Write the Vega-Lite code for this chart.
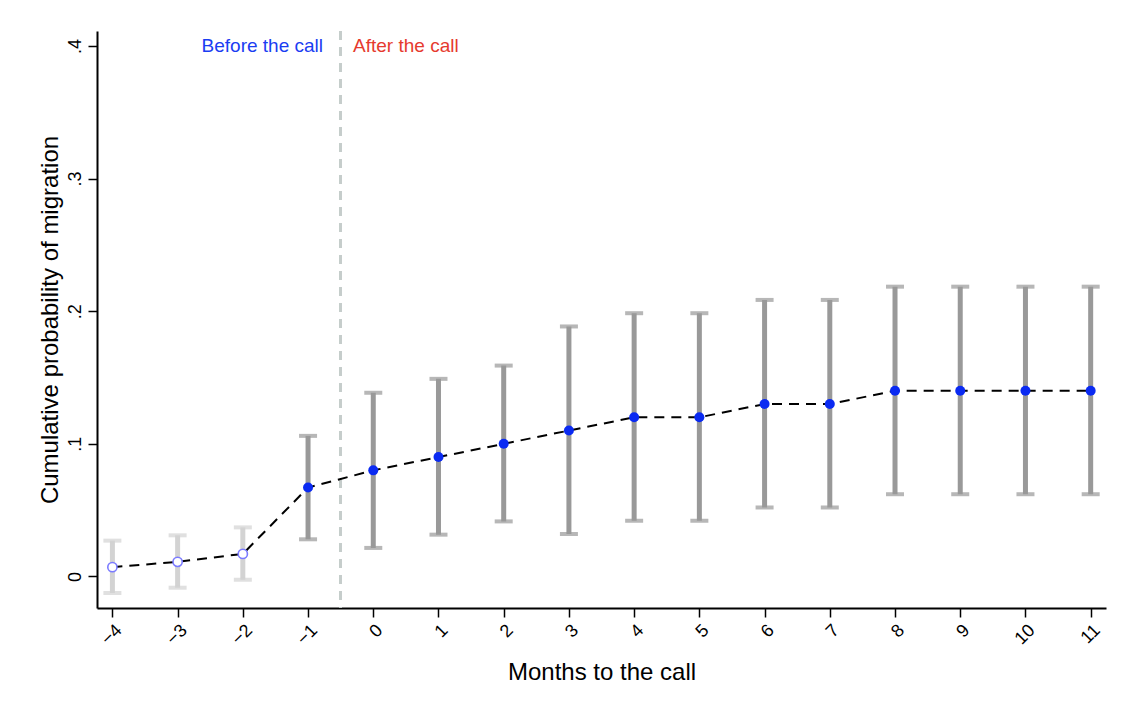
{
  "$schema": "https://vega.github.io/schema/vega-lite/v6.json",
  "width": 1009,
  "height": 577,
  "autosize": {"type": "none"},
  "padding": {"left": 97, "top": 31, "right": 18, "bottom": 94},
  "background": "white",
  "config": {
    "view": {"stroke": null},
    "font": "Liberation Sans",
    "axis": {"grid": false, "domainColor": "black", "tickColor": "black", "labelColor": "black", "titleColor": "black", "titleFontWeight": "normal"}
  },
  "datasets": {
    "est": [
      {"month": -4, "p": 0.007, "lo": -0.0125, "hi": 0.027, "period": "before"},
      {"month": -3, "p": 0.011, "lo": -0.0085, "hi": 0.031, "period": "before"},
      {"month": -2, "p": 0.017, "lo": -0.0025, "hi": 0.037, "period": "before"},
      {"month": -1, "p": 0.067, "lo": 0.028, "hi": 0.106, "period": "after"},
      {"month": 0, "p": 0.08, "lo": 0.0215, "hi": 0.1385, "period": "after"},
      {"month": 1, "p": 0.09, "lo": 0.0315, "hi": 0.149, "period": "after"},
      {"month": 2, "p": 0.10, "lo": 0.0415, "hi": 0.159, "period": "after"},
      {"month": 3, "p": 0.11, "lo": 0.032, "hi": 0.1885, "period": "after"},
      {"month": 4, "p": 0.12, "lo": 0.042, "hi": 0.1985, "period": "after"},
      {"month": 5, "p": 0.12, "lo": 0.042, "hi": 0.1985, "period": "after"},
      {"month": 6, "p": 0.13, "lo": 0.052, "hi": 0.2085, "period": "after"},
      {"month": 7, "p": 0.13, "lo": 0.052, "hi": 0.2085, "period": "after"},
      {"month": 8, "p": 0.14, "lo": 0.062, "hi": 0.2185, "period": "after"},
      {"month": 9, "p": 0.14, "lo": 0.062, "hi": 0.2185, "period": "after"},
      {"month": 10, "p": 0.14, "lo": 0.062, "hi": 0.2185, "period": "after"},
      {"month": 11, "p": 0.14, "lo": 0.062, "hi": 0.2185, "period": "after"}
    ]
  },
  "data": {"name": "est"},
  "encoding": {
    "x": {
      "field": "month",
      "type": "quantitative",
      "scale": {"domain": [-4.236, 11.235], "nice": false, "zero": false},
      "axis": {
        "title": "Months to the call",
        "values": [-4, -3, -2, -1, 0, 1, 2, 3, 4, 5, 6, 7, 8, 9, 10, 11],
        "format": "d",
        "labelAngle": -45,
        "labelFontSize": 18,
        "labelPadding": 4,
        "tickSize": 9,
        "tickWidth": 1.5,
        "domainWidth": 2,
        "titleFontSize": 24,
        "titlePadding": 12
      }
    }
  },
  "layer": [
    {
      "mark": {"type": "rule", "color": "#c6cdcb", "strokeWidth": 2, "strokeDash": [9, 7]},
      "encoding": {"x": {"datum": -0.5, "type": "quantitative"}}
    },
    {
      "mark": {"type": "rule", "strokeWidth": 5},
      "encoding": {
        "y": {
          "field": "lo",
          "type": "quantitative",
          "title": "Cumulative probability of migration",
          "scale": {"domain": [-0.0238, 0.4113], "nice": false, "zero": false},
          "axis": {
            "values": [0, 0.1, 0.2, 0.3, 0.4],
            "labelExpr": "datum.value === 0 ? '0' : '.' + format(datum.value * 10, 'd')",
            "labelAngle": -90,
            "labelAlign": "center",
            "labelBaseline": "alphabetic",
            "labelFontSize": 18,
            "labelPadding": 8,
            "tickSize": 9,
            "tickWidth": 1.5,
            "domainWidth": 2,
            "titleFontSize": 24,
            "titlePadding": 4
          }
        },
        "y2": {"field": "hi"},
        "color": {"field": "period", "type": "nominal", "scale": {"domain": ["before", "after"], "range": ["#d3d3d3", "#999999"]}, "legend": null}
      }
    },
    {
      "mark": {"type": "tick", "orient": "horizontal", "size": 18, "thickness": 4},
      "encoding": {
        "y": {"field": "hi", "type": "quantitative", "title": "Cumulative probability of migration"},
        "color": {"field": "period", "type": "nominal", "legend": null}
      }
    },
    {
      "mark": {"type": "tick", "orient": "horizontal", "size": 18, "thickness": 4},
      "encoding": {
        "y": {"field": "lo", "type": "quantitative", "title": "Cumulative probability of migration"},
        "color": {"field": "period", "type": "nominal", "legend": null}
      }
    },
    {
      "mark": {"type": "rule", "color": "black", "strokeWidth": 2},
      "encoding": {"y": {"datum": 0, "type": "quantitative"}}
    },
    {
      "mark": {"type": "line", "color": "black", "strokeWidth": 2, "strokeDash": [10, 7]},
      "encoding": {
        "y": {"field": "p", "type": "quantitative", "title": "Cumulative probability of migration"}
      }
    },
    {
      "transform": [{"filter": "datum.period === 'before'"}],
      "mark": {"type": "point", "filled": false, "fill": "white", "fillOpacity": 1, "stroke": "#7b7bff", "strokeWidth": 1.6, "size": 85, "opacity": 1},
      "encoding": {
        "y": {"field": "p", "type": "quantitative", "title": "Cumulative probability of migration"}
      }
    },
    {
      "transform": [{"filter": "datum.period === 'after'"}],
      "mark": {"type": "circle", "color": "#0a2af2", "size": 100, "opacity": 1},
      "encoding": {
        "y": {"field": "p", "type": "quantitative", "title": "Cumulative probability of migration"}
      }
    },
    {
      "data": {"values": [{"label": "Before the call", "at": -0.77, "level": 0.4}]},
      "mark": {"type": "text", "color": "#1a3df2", "fontSize": 19, "align": "right", "baseline": "middle"},
      "encoding": {
        "text": {"field": "label", "type": "nominal"},
        "x": {"field": "at", "type": "quantitative"},
        "y": {"field": "level", "type": "quantitative", "title": "Cumulative probability of migration"}
      }
    },
    {
      "data": {"values": [{"label": "After the call", "at": -0.31, "level": 0.4}]},
      "mark": {"type": "text", "color": "#e63a2e", "fontSize": 19, "align": "left", "baseline": "middle"},
      "encoding": {
        "text": {"field": "label", "type": "nominal"},
        "x": {"field": "at", "type": "quantitative"},
        "y": {"field": "level", "type": "quantitative", "title": "Cumulative probability of migration"}
      }
    }
  ]
}
